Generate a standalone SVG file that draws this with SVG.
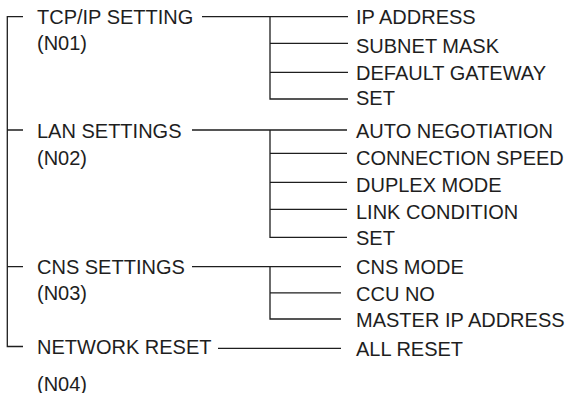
<svg xmlns="http://www.w3.org/2000/svg" width="576" height="393" viewBox="0 0 576 393">
<style>
text{font-family:"Liberation Sans",Arial,sans-serif;font-size:20px;fill:#1e1e1e}
.c path{fill:none;stroke:#1e1e1e;stroke-width:1.3}
</style>
<rect width="576" height="393" fill="#fff"/>
<g class="c" id="connectors">
<path d="M23 16.7H7.3V346.5H23M7.3 130H23M7.3 266.7H23"/>
<path d="M202 16.7H348M270 16.7V99H348M270 43.3H348M270 72.3H348"/>
<path d="M192 130H347M270 130V237.3H347M270 153.3H347M270 182.3H347M270 209.3H347"/>
<path d="M192 266.7H341M270 266.7V319H341M270 292.8H341"/>
<path d="M218 348.3H341"/>
</g>
<g id="n01"><text x="37" y="23.5">TCP/IP SETTING</text><text x="37" y="50">(N01)</text></g>
<g id="n02"><text x="37" y="138">LAN SETTINGS</text><text x="37" y="165">(N02)</text></g>
<g id="n03"><text x="37" y="273.5">CNS SETTINGS</text><text x="37" y="300">(N03)</text></g>
<g id="n04"><text x="37" y="354">NETWORK RESET</text><text x="37" y="390.5">(N04)</text></g>
<g id="n01-items">
<text x="356" y="23.5">IP ADDRESS</text>
<text x="356" y="52.7">SUBNET MASK</text>
<text x="356" y="80">DEFAULT GATEWAY</text>
<text x="356" y="105">SET</text>
</g>
<g id="n02-items">
<text x="356" y="138">AUTO NEGOTIATION</text>
<text x="356" y="165">CONNECTION SPEED</text>
<text x="356" y="192">DUPLEX MODE</text>
<text x="356" y="218.5">LINK CONDITION</text>
<text x="356" y="245">SET</text>
</g>
<g id="n03-items">
<text x="356" y="274">CNS MODE</text>
<text x="356" y="300.5">CCU NO</text>
<text x="356" y="326.5">MASTER IP ADDRESS</text>
</g>
<g id="n04-items">
<text x="356" y="355.5">ALL RESET</text>
</g>
</svg>
